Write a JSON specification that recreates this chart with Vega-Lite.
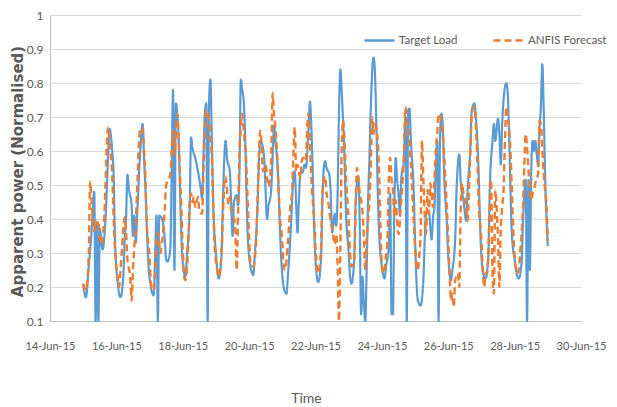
{
"$schema":"https://vega.github.io/schema/vega-lite/v6.json",
"width":531,"height":306,
"autosize":{"type":"none"},
"padding":{"left":50,"top":15,"right":36,"bottom":86},
"background":"white",
"config":{"view":{"stroke":null},"font":"Lato"},
"datasets":{
"target":[
{"h":24,"v":0.205},{"h":26,"v":0.17},{"h":28,"v":0.26},{"h":30,"v":0.36},{"h":32,"v":0.48},{"h":33,"v":0.1},{"h":34,"v":0.39},{"h":35,"v":0.1},{"h":36,"v":0.37},{"h":38,"v":0.31},{"h":40,"v":0.39},{"h":42,"v":0.58},{"h":43,"v":0.665},{"h":45,"v":0.6},{"h":46,"v":0.53},{"h":47,"v":0.34},{"h":49,"v":0.21},{"h":51,"v":0.17},{"h":53,"v":0.23},{"h":54,"v":0.34},{"h":55,"v":0.4},{"h":56,"v":0.53},{"h":57,"v":0.49},{"h":59,"v":0.44},{"h":60,"v":0.35},{"h":61,"v":0.41},{"h":62,"v":0.33},{"h":63,"v":0.41},{"h":65,"v":0.58},{"h":67,"v":0.68},{"h":68,"v":0.58},{"h":69,"v":0.49},{"h":70,"v":0.38},{"h":71,"v":0.28},{"h":73,"v":0.2},{"h":75,"v":0.175},{"h":76,"v":0.29},{"h":77,"v":0.41},{"h":78,"v":0.1},{"h":79,"v":0.41},{"h":81,"v":0.4},{"h":82,"v":0.38},{"h":83,"v":0.34},{"h":84,"v":0.28},{"h":85,"v":0.275},{"h":87,"v":0.31},{"h":88,"v":0.54},{"h":89,"v":0.78},{"h":90,"v":0.25},{"h":91,"v":0.74},{"h":92,"v":0.71},{"h":93,"v":0.64},{"h":94,"v":0.49},{"h":95,"v":0.35},{"h":96,"v":0.27},{"h":98,"v":0.23},{"h":99,"v":0.29},{"h":101,"v":0.43},{"h":102,"v":0.64},{"h":103,"v":0.61},{"h":105,"v":0.58},{"h":107,"v":0.54},{"h":109,"v":0.49},{"h":110,"v":0.46},{"h":111,"v":0.59},{"h":112,"v":0.71},{"h":113,"v":0.74},{"h":114,"v":0.1},{"h":115,"v":0.74},{"h":116,"v":0.81},{"h":117,"v":0.64},{"h":118,"v":0.45},{"h":120,"v":0.3},{"h":122,"v":0.225},{"h":124,"v":0.29},{"h":125,"v":0.45},{"h":127,"v":0.63},{"h":128,"v":0.58},{"h":130,"v":0.54},{"h":131,"v":0.45},{"h":132,"v":0.35},{"h":133,"v":0.45},{"h":135,"v":0.47},{"h":136,"v":0.44},{"h":137,"v":0.54},{"h":138,"v":0.81},{"h":139,"v":0.78},{"h":140,"v":0.75},{"h":141,"v":0.66},{"h":142,"v":0.49},{"h":143,"v":0.35},{"h":145,"v":0.26},{"h":147,"v":0.235},{"h":148,"v":0.29},{"h":150,"v":0.43},{"h":151,"v":0.56},{"h":152,"v":0.63},{"h":154,"v":0.61},{"h":155,"v":0.57},{"h":157,"v":0.4},{"h":158,"v":0.44},{"h":159,"v":0.455},{"h":160,"v":0.49},{"h":161,"v":0.58},{"h":162,"v":0.675},{"h":163,"v":0.63},{"h":165,"v":0.52},{"h":166,"v":0.4},{"h":167,"v":0.3},{"h":169,"v":0.2},{"h":171,"v":0.18},{"h":172,"v":0.23},{"h":174,"v":0.36},{"h":176,"v":0.52},{"h":177,"v":0.54},{"h":178,"v":0.445},{"h":179,"v":0.36},{"h":180,"v":0.455},{"h":181,"v":0.53},{"h":183,"v":0.54},{"h":184,"v":0.56},{"h":185,"v":0.55},{"h":187,"v":0.67},{"h":188,"v":0.745},{"h":189,"v":0.67},{"h":190,"v":0.54},{"h":191,"v":0.38},{"h":192,"v":0.28},{"h":193,"v":0.23},{"h":194,"v":0.215},{"h":196,"v":0.28},{"h":197,"v":0.455},{"h":198,"v":0.55},{"h":199,"v":0.57},{"h":200,"v":0.55},{"h":202,"v":0.53},{"h":203,"v":0.475},{"h":204,"v":0.36},{"h":206,"v":0.415},{"h":207,"v":0.38},{"h":208,"v":0.475},{"h":209,"v":0.72},{"h":210,"v":0.84},{"h":211,"v":0.77},{"h":213,"v":0.57},{"h":214,"v":0.425},{"h":216,"v":0.3},{"h":217,"v":0.23},{"h":218,"v":0.21},{"h":220,"v":0.28},{"h":221,"v":0.445},{"h":223,"v":0.525},{"h":224,"v":0.38},{"h":225,"v":0.12},{"h":226,"v":0.23},{"h":227,"v":0.15},{"h":228,"v":0.1},{"h":229,"v":0.25},{"h":230,"v":0.45},{"h":231,"v":0.58},{"h":232,"v":0.73},{"h":234,"v":0.875},{"h":235,"v":0.83},{"h":236,"v":0.68},{"h":237,"v":0.485},{"h":238,"v":0.36},{"h":240,"v":0.26},{"h":242,"v":0.225},{"h":243,"v":0.26},{"h":245,"v":0.32},{"h":246,"v":0.475},{"h":247,"v":0.12},{"h":248,"v":0.12},{"h":249,"v":0.435},{"h":250,"v":0.58},{"h":251,"v":0.515},{"h":252,"v":0.475},{"h":253,"v":0.415},{"h":254,"v":0.515},{"h":256,"v":0.58},{"h":257,"v":0.7},{"h":258,"v":0.1},{"h":259,"v":0.72},{"h":260,"v":0.725},{"h":261,"v":0.63},{"h":263,"v":0.485},{"h":264,"v":0.34},{"h":265,"v":0.22},{"h":266,"v":0.16},{"h":268,"v":0.145},{"h":270,"v":0.22},{"h":271,"v":0.34},{"h":272,"v":0.415},{"h":274,"v":0.425},{"h":275,"v":0.375},{"h":276,"v":0.34},{"h":277,"v":0.405},{"h":278,"v":0.435},{"h":279,"v":0.55},{"h":280,"v":0.63},{"h":281,"v":0.1},{"h":282,"v":0.63},{"h":283,"v":0.71},{"h":284,"v":0.68},{"h":285,"v":0.535},{"h":287,"v":0.385},{"h":288,"v":0.29},{"h":290,"v":0.22},{"h":291,"v":0.25},{"h":293,"v":0.34},{"h":294,"v":0.485},{"h":296,"v":0.59},{"h":297,"v":0.51},{"h":299,"v":0.455},{"h":301,"v":0.395},{"h":302,"v":0.485},{"h":304,"v":0.61},{"h":305,"v":0.72},{"h":307,"v":0.74},{"h":308,"v":0.7},{"h":310,"v":0.535},{"h":311,"v":0.385},{"h":312,"v":0.29},{"h":314,"v":0.23},{"h":315,"v":0.225},{"h":317,"v":0.29},{"h":318,"v":0.485},{"h":320,"v":0.63},{"h":321,"v":0.68},{"h":322,"v":0.63},{"h":324,"v":0.695},{"h":325,"v":0.65},{"h":326,"v":0.56},{"h":327,"v":0.68},{"h":328,"v":0.75},{"h":330,"v":0.8},{"h":331,"v":0.77},{"h":332,"v":0.65},{"h":333,"v":0.485},{"h":334,"v":0.355},{"h":336,"v":0.28},{"h":338,"v":0.23},{"h":339,"v":0.225},{"h":341,"v":0.27},{"h":342,"v":0.385},{"h":344,"v":0.515},{"h":345,"v":0.1},{"h":346,"v":0.515},{"h":347,"v":0.25},{"h":348,"v":0.535},{"h":349,"v":0.63},{"h":350,"v":0.6},{"h":351,"v":0.63},{"h":353,"v":0.555},{"h":354,"v":0.67},{"h":355,"v":0.73},{"h":356,"v":0.855},{"h":357,"v":0.73},{"h":358,"v":0.535},{"h":360,"v":0.32}
],
"forecast":[
{"h":24,"v":0.21},{"h":26,"v":0.19},{"h":28,"v":0.29},{"h":29,"v":0.51},{"h":30,"v":0.455},{"h":32,"v":0.365},{"h":33,"v":0.395},{"h":34,"v":0.385},{"h":35,"v":0.395},{"h":36,"v":0.345},{"h":37,"v":0.325},{"h":39,"v":0.385},{"h":40,"v":0.485},{"h":41,"v":0.61},{"h":42,"v":0.67},{"h":43,"v":0.63},{"h":45,"v":0.525},{"h":46,"v":0.405},{"h":47,"v":0.31},{"h":49,"v":0.23},{"h":50,"v":0.2},{"h":51,"v":0.25},{"h":52,"v":0.31},{"h":54,"v":0.405},{"h":55,"v":0.365},{"h":56,"v":0.28},{"h":58,"v":0.23},{"h":59,"v":0.16},{"h":60,"v":0.25},{"h":61,"v":0.32},{"h":62,"v":0.385},{"h":63,"v":0.485},{"h":65,"v":0.66},{"h":67,"v":0.67},{"h":68,"v":0.6},{"h":69,"v":0.525},{"h":70,"v":0.385},{"h":72,"v":0.29},{"h":73,"v":0.21},{"h":75,"v":0.19},{"h":76,"v":0.24},{"h":77,"v":0.345},{"h":78,"v":0.36},{"h":79,"v":0.33},{"h":80,"v":0.3},{"h":81,"v":0.33},{"h":82,"v":0.37},{"h":83,"v":0.43},{"h":84,"v":0.5},{"h":86,"v":0.52},{"h":87,"v":0.53},{"h":88,"v":0.6},{"h":89,"v":0.66},{"h":90,"v":0.59},{"h":92,"v":0.71},{"h":93,"v":0.64},{"h":94,"v":0.53},{"h":95,"v":0.43},{"h":96,"v":0.31},{"h":97,"v":0.23},{"h":98,"v":0.22},{"h":100,"v":0.33},{"h":101,"v":0.45},{"h":102,"v":0.475},{"h":103,"v":0.45},{"h":104,"v":0.465},{"h":105,"v":0.435},{"h":107,"v":0.465},{"h":108,"v":0.425},{"h":110,"v":0.415},{"h":111,"v":0.54},{"h":112,"v":0.66},{"h":113,"v":0.72},{"h":115,"v":0.69},{"h":116,"v":0.64},{"h":117,"v":0.59},{"h":118,"v":0.445},{"h":119,"v":0.33},{"h":121,"v":0.25},{"h":122,"v":0.23},{"h":124,"v":0.3},{"h":125,"v":0.4},{"h":126,"v":0.495},{"h":127,"v":0.525},{"h":129,"v":0.445},{"h":130,"v":0.465},{"h":131,"v":0.425},{"h":133,"v":0.405},{"h":134,"v":0.365},{"h":135,"v":0.25},{"h":136,"v":0.415},{"h":137,"v":0.59},{"h":138,"v":0.67},{"h":139,"v":0.71},{"h":140,"v":0.66},{"h":142,"v":0.56},{"h":143,"v":0.445},{"h":144,"v":0.345},{"h":145,"v":0.27},{"h":147,"v":0.26},{"h":149,"v":0.33},{"h":150,"v":0.445},{"h":151,"v":0.58},{"h":152,"v":0.66},{"h":153,"v":0.62},{"h":154,"v":0.54},{"h":156,"v":0.56},{"h":157,"v":0.52},{"h":158,"v":0.495},{"h":159,"v":0.515},{"h":160,"v":0.59},{"h":161,"v":0.77},{"h":162,"v":0.71},{"h":163,"v":0.67},{"h":164,"v":0.61},{"h":165,"v":0.52},{"h":166,"v":0.425},{"h":168,"v":0.335},{"h":169,"v":0.26},{"h":170,"v":0.25},{"h":172,"v":0.33},{"h":174,"v":0.445},{"h":175,"v":0.475},{"h":176,"v":0.59},{"h":177,"v":0.67},{"h":178,"v":0.54},{"h":179,"v":0.56},{"h":181,"v":0.52},{"h":182,"v":0.57},{"h":183,"v":0.58},{"h":185,"v":0.57},{"h":186,"v":0.67},{"h":187,"v":0.71},{"h":188,"v":0.62},{"h":189,"v":0.52},{"h":191,"v":0.395},{"h":192,"v":0.315},{"h":193,"v":0.26},{"h":194,"v":0.24},{"h":196,"v":0.315},{"h":197,"v":0.475},{"h":199,"v":0.525},{"h":200,"v":0.475},{"h":201,"v":0.455},{"h":203,"v":0.395},{"h":204,"v":0.375},{"h":206,"v":0.325},{"h":207,"v":0.355},{"h":208,"v":0.26},{"h":209,"v":0.1},{"h":210,"v":0.315},{"h":211,"v":0.62},{"h":212,"v":0.69},{"h":213,"v":0.63},{"h":214,"v":0.525},{"h":216,"v":0.395},{"h":217,"v":0.3},{"h":218,"v":0.26},{"h":220,"v":0.28},{"h":221,"v":0.425},{"h":222,"v":0.55},{"h":223,"v":0.515},{"h":224,"v":0.475},{"h":225,"v":0.455},{"h":226,"v":0.42},{"h":227,"v":0.34},{"h":228,"v":0.25},{"h":229,"v":0.34},{"h":231,"v":0.455},{"h":232,"v":0.555},{"h":233,"v":0.7},{"h":234,"v":0.65},{"h":235,"v":0.68},{"h":237,"v":0.63},{"h":238,"v":0.535},{"h":239,"v":0.375},{"h":240,"v":0.26},{"h":241,"v":0.24},{"h":243,"v":0.29},{"h":244,"v":0.335},{"h":245,"v":0.515},{"h":246,"v":0.58},{"h":247,"v":0.515},{"h":248,"v":0.485},{"h":249,"v":0.405},{"h":250,"v":0.455},{"h":251,"v":0.395},{"h":252,"v":0.355},{"h":254,"v":0.455},{"h":255,"v":0.515},{"h":256,"v":0.6},{"h":257,"v":0.73},{"h":258,"v":0.69},{"h":260,"v":0.63},{"h":261,"v":0.555},{"h":262,"v":0.475},{"h":263,"v":0.395},{"h":264,"v":0.315},{"h":266,"v":0.25},{"h":267,"v":0.29},{"h":268,"v":0.355},{"h":269,"v":0.63},{"h":270,"v":0.515},{"h":272,"v":0.355},{"h":273,"v":0.485},{"h":274,"v":0.415},{"h":275,"v":0.505},{"h":277,"v":0.435},{"h":278,"v":0.515},{"h":279,"v":0.6},{"h":280,"v":0.65},{"h":281,"v":0.71},{"h":283,"v":0.69},{"h":284,"v":0.65},{"h":285,"v":0.59},{"h":286,"v":0.515},{"h":287,"v":0.435},{"h":289,"v":0.24},{"h":290,"v":0.16},{"h":291,"v":0.18},{"h":292,"v":0.14},{"h":293,"v":0.22},{"h":295,"v":0.24},{"h":296,"v":0.2},{"h":297,"v":0.435},{"h":298,"v":0.505},{"h":299,"v":0.475},{"h":301,"v":0.435},{"h":302,"v":0.395},{"h":303,"v":0.485},{"h":304,"v":0.6},{"h":305,"v":0.71},{"h":307,"v":0.73},{"h":308,"v":0.67},{"h":309,"v":0.575},{"h":310,"v":0.455},{"h":312,"v":0.335},{"h":313,"v":0.25},{"h":314,"v":0.2},{"h":315,"v":0.24},{"h":316,"v":0.24},{"h":318,"v":0.415},{"h":319,"v":0.515},{"h":320,"v":0.24},{"h":321,"v":0.18},{"h":322,"v":0.485},{"h":323,"v":0.435},{"h":324,"v":0.335},{"h":325,"v":0.2},{"h":326,"v":0.375},{"h":327,"v":0.435},{"h":328,"v":0.485},{"h":329,"v":0.63},{"h":330,"v":0.73},{"h":331,"v":0.7},{"h":333,"v":0.6},{"h":334,"v":0.485},{"h":335,"v":0.375},{"h":336,"v":0.29},{"h":338,"v":0.24},{"h":339,"v":0.25},{"h":340,"v":0.3},{"h":342,"v":0.435},{"h":343,"v":0.555},{"h":344,"v":0.65},{"h":345,"v":0.61},{"h":347,"v":0.485},{"h":348,"v":0.455},{"h":349,"v":0.475},{"h":350,"v":0.485},{"h":351,"v":0.505},{"h":353,"v":0.535},{"h":354,"v":0.69},{"h":355,"v":0.68},{"h":356,"v":0.61},{"h":357,"v":0.535},{"h":359,"v":0.435},{"h":360,"v":0.335}
]},
"layer":[
{"data":{"name":"target"},
 "mark":{"type":"line","interpolate":"monotone","strokeWidth":2.2},
 "encoding":{
  "x":{"field":"h","type":"quantitative","scale":{"domain":[0,384],"nice":false,"zero":false},
   "axis":{"values":[0,48,96,144,192,240,288,336,384],"tickCount":20,"labelExpr":"timeFormat(datetime(2015,5,14+datum.value/24),'%d-%b-%y')","grid":false,"ticks":false,"domainColor":"#bfbfbf","labelColor":"#595959","labelFont":"Lato","labelFontSize":11,"labelPadding":19,"labelFlush":false,"labelOverlap":false,"title":"Time","titleFont":"Lato","titleFontSize":14,"titleFontWeight":"normal","titleColor":"#595959","titleX":256,"titleY":77,"titleBaseline":"middle"}},
  "y":{"field":"v","type":"quantitative","scale":{"domain":[0.1,1],"nice":false,"zero":false},
   "axis":{"values":[0.1,0.2,0.3,0.4,0.5,0.6,0.7,0.8,0.9,1],"tickCount":20,"format":"~g","grid":true,"gridColor":"#d9d9d9","ticks":false,"domainColor":"#bfbfbf","labelColor":"#595959","labelFont":"Lato","labelFontSize":12,"labelPadding":7,"labelOverlap":false,"labelFlush":false,"title":"Apparent power (Normalised)","titleFont":"DejaVu Sans","titleFontSize":15,"titleFontWeight":"bold","titleColor":"#595959","titleX":-33,"titleY":156,"titleAngle":-90,"titleAlign":"center","titleBaseline":"middle"}},
  "color":{"datum":"Target Load","type":"nominal","scale":{"domain":["Target Load","ANFIS Forecast"],"range":["#5B9BD5","#ED7D31"]},
   "legend":{"orient":"none","legendX":313,"legendY":9,"direction":"horizontal","title":null,"symbolType":"stroke","symbolSize":900,"symbolStrokeWidth":2.5,"labelFont":"Lato","labelFontSize":11.5,"labelColor":"#595959","labelOffset":3,"columnPadding":30}},
  "strokeDash":{"datum":"Target Load","type":"nominal","scale":{"domain":["Target Load","ANFIS Forecast"],"range":[[1,0],[7,4]]},
   "legend":{"orient":"none","legendX":313,"legendY":9,"direction":"horizontal","title":null,"symbolType":"stroke","symbolSize":900,"symbolStrokeWidth":2.5,"labelFont":"Lato","labelFontSize":11.5,"labelColor":"#595959","labelOffset":3,"columnPadding":30}}
 }},
{"data":{"name":"forecast"},
 "mark":{"type":"line","interpolate":"monotone","strokeWidth":2.4},
 "encoding":{
  "x":{"field":"h","type":"quantitative"},
  "y":{"field":"v","type":"quantitative"},
  "color":{"datum":"ANFIS Forecast","type":"nominal"},
  "strokeDash":{"datum":"ANFIS Forecast","type":"nominal"}
 }}
]
}
